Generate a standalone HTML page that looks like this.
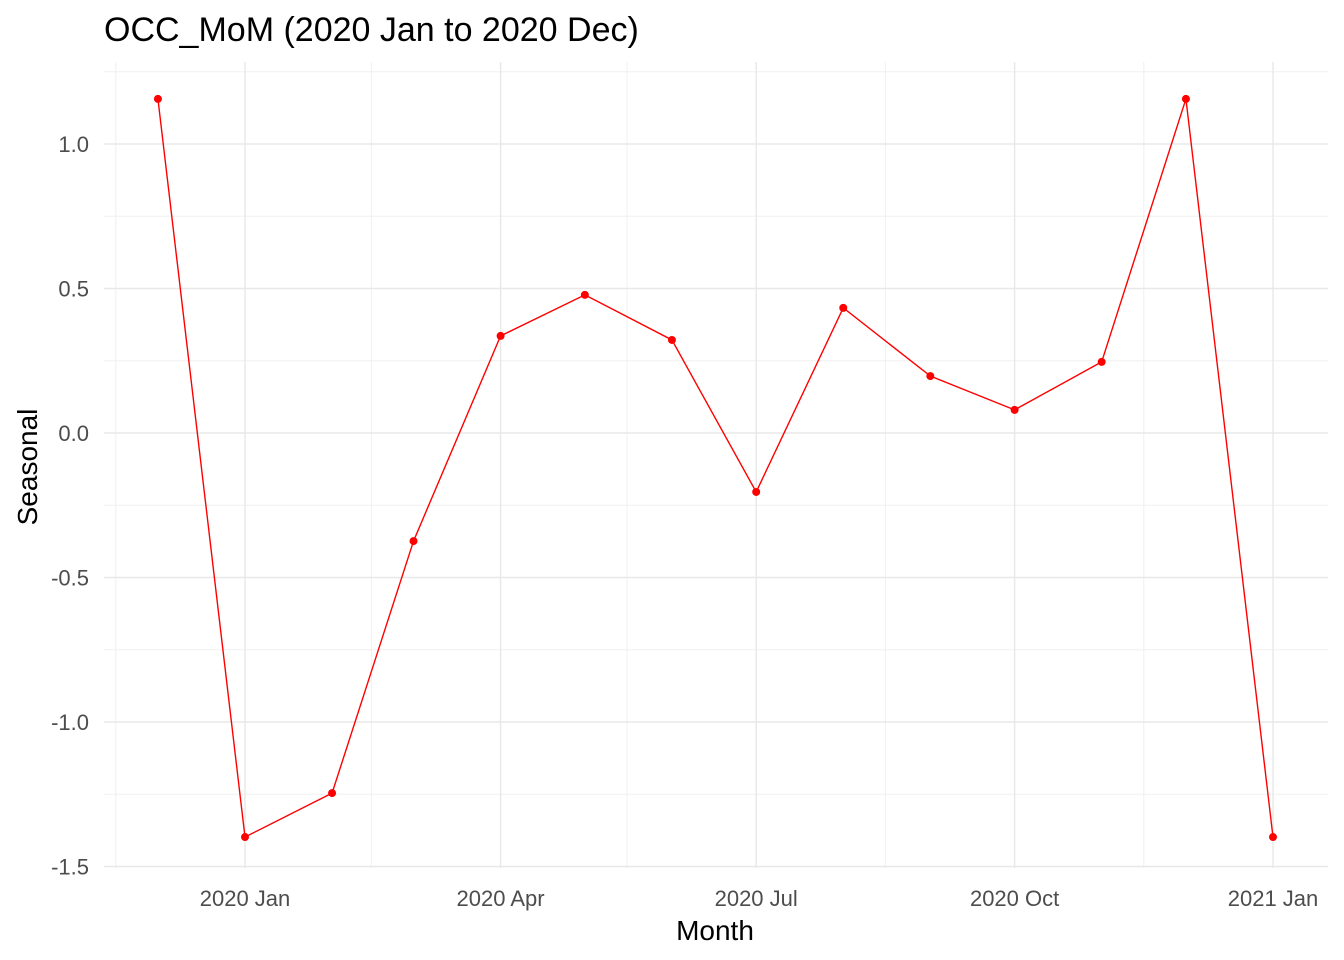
<!DOCTYPE html>
<html><head><meta charset="utf-8"><style>
body{margin:0;background:#fff;}
svg{display:block;font-family:"Liberation Sans",Arial,sans-serif;}
</style></head><body>
<svg id="chart" width="1344" height="960">
<text x="104" y="41" font-size="34" fill="#000">OCC_MoM (2020 Jan to 2020 Dec)</text>
<g id="grid"></g><g id="axes"></g><g id="series"></g>
<text x="715" y="940" font-size="28" text-anchor="middle" fill="#000">Month</text>
<text transform="translate(37,467) rotate(-90)" font-size="28" text-anchor="middle" fill="#000">Seasonal</text>
</svg>
<script>
const dates=["2019-12-01","2020-01-01","2020-02-01","2020-03-01","2020-04-01","2020-05-01","2020-06-01","2020-07-01","2020-08-01","2020-09-01","2020-10-01","2020-11-01","2020-12-01","2021-01-01"];
const values=[1.156,-1.398,-1.246,-0.374,0.336,0.478,0.322,-0.204,0.433,0.197,0.080,0.246,1.156,-1.398];
const xTickDates=["2020-01-01","2020-04-01","2020-07-01","2020-10-01","2021-01-01"];
const xTickLabels=["2020 Jan","2020 Apr","2020 Jul","2020 Oct","2021 Jan"];
const xMinorDates=["2019-11-16","2020-02-15","2020-05-16","2020-08-16","2020-11-16"];
const yTicks=[-1.5,-1.0,-0.5,0.0,0.5,1.0];
const yTickLabels=["-1.5","-1.0","-0.5","0.0","0.5","1.0"];
const ns="http://www.w3.org/2000/svg";
const day=d=>Date.parse(d+"T00:00:00Z")/86400000;
const d0=day("2020-01-01");
const x=d=>245+(day(d)-d0)*(1028/366);
const y=v=>433-v*289;
const L=104,R=1328,T=62,B=868;
function mk(tag,attrs,parent){const e=document.createElementNS(ns,tag);for(const k in attrs)e.setAttribute(k,attrs[k]);parent.appendChild(e);return e;}
const grid=document.getElementById("grid"),axes=document.getElementById("axes"),series=document.getElementById("series");
for(let i=0;i<yTicks.length-1;i++){const v=(yTicks[i]+yTicks[i+1])/2;
 const l=mk("line",{x1:L,x2:R,y1:y(v),y2:y(v),stroke:"#f0f0f0","stroke-width":1},grid);
 
 }
{const v=1.25;const l=mk("line",{x1:L,x2:R,y1:y(v),y2:y(v),stroke:"#f0f0f0","stroke-width":1},grid);
 
 }
xMinorDates.forEach(d=>{const l=mk("line",{x1:x(d),x2:x(d),y1:T,y2:B,stroke:"#f0f0f0","stroke-width":1},grid);
 
 });
yTicks.forEach((v,i)=>{const l=mk("line",{x1:L,x2:R,y1:y(v),y2:y(v),stroke:"#e8e8e8","stroke-width":1.4},grid);
 
 
 const t=mk("text",{x:89,y:y(v)+8,"font-size":22,"text-anchor":"end",fill:"#4d4d4d"},axes);t.textContent=yTickLabels[i];
 
 });
xTickDates.forEach((d,i)=>{const l=mk("line",{x1:x(d),x2:x(d),y1:T,y2:B,stroke:"#e8e8e8","stroke-width":1.4},grid);
 
 
 const t=mk("text",{x:x(d),y:906,"font-size":22,"text-anchor":"middle",fill:"#4d4d4d"},axes);t.textContent=xTickLabels[i];
 
 });
const pts=dates.map((d,i)=>x(d)+","+y(values[i])).join(" ");
const pl=mk("polyline",{points:pts,fill:"none",stroke:"#ff0000","stroke-width":1.4},series);


dates.forEach((d,i)=>{const c=mk("circle",{cx:x(d),cy:y(values[i]),r:4,fill:"#ff0000"},series);
 
 });
</script>
</body></html>
